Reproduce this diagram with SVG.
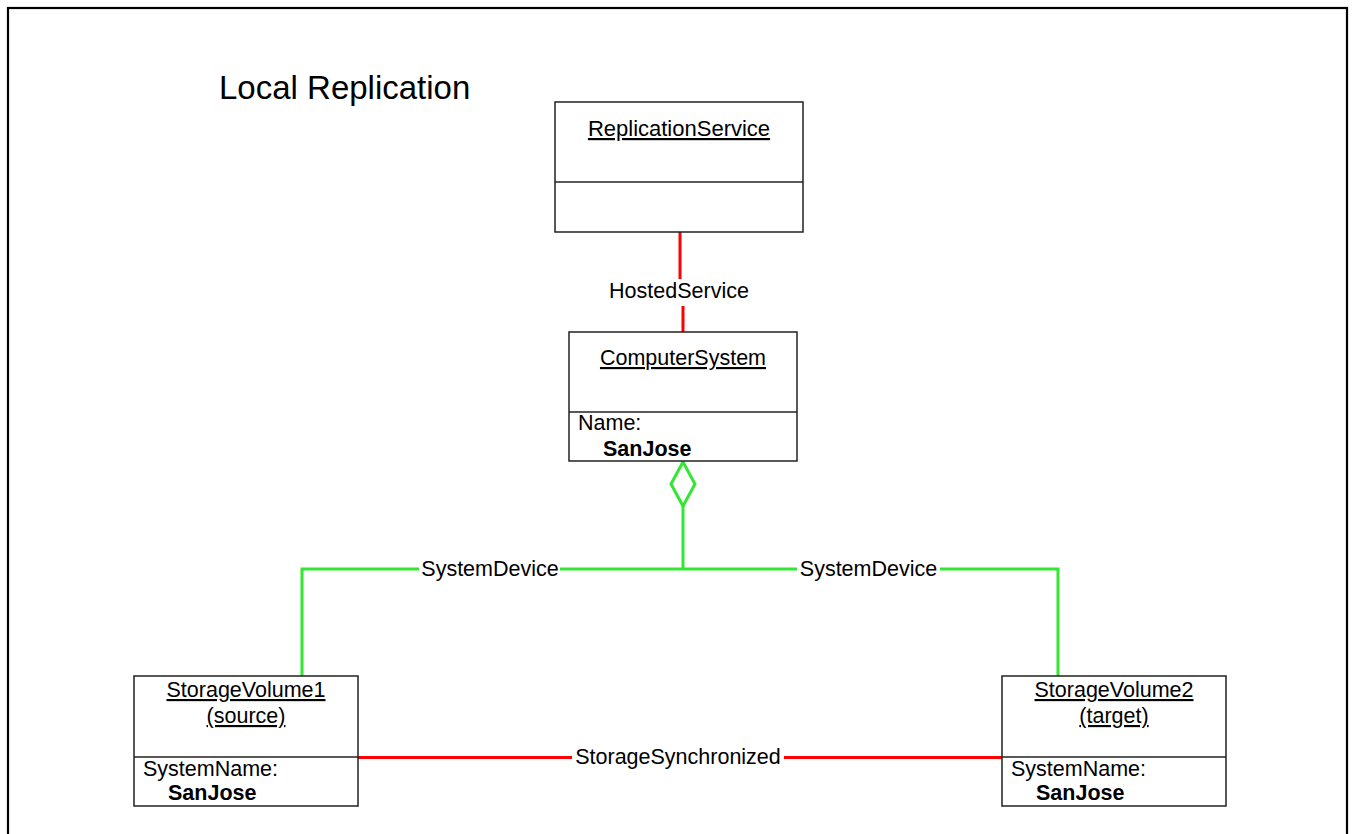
<svg xmlns="http://www.w3.org/2000/svg" width="1354" height="834" viewBox="0 0 1354 834">
<style>
text{font-family:"Liberation Sans",Arial,sans-serif;font-size:21.5px;fill:#000}
.title{font-size:33px}
.u{text-decoration:underline}
.b{font-weight:bold}
.box{fill:#fff;stroke:#222;stroke-width:1.5}
.div{stroke:#222;stroke-width:1.5}
.red{stroke:#ff0000;stroke-width:3;fill:none}
.grn{stroke:#33e633;stroke-width:3;fill:none}
</style>
<rect width="1354" height="834" fill="#fff"/>
<rect x="8" y="8" width="1339" height="840" fill="none" stroke="#000" stroke-width="2.2"/>
<text class="title" x="219" y="99">Local Replication</text>
<g id="connectors">
<line class="red" x1="680" y1="232" x2="680" y2="279"/>
<line class="red" x1="683" y1="306" x2="683" y2="332"/>
<text x="679" y="298" text-anchor="middle">HostedService</text>
<polygon class="grn" points="683,462 695,484 683,506 671,484"/>
<line class="grn" x1="683" y1="506" x2="683" y2="569"/>
<polyline class="grn" points="302,676 302,569 419,569"/>
<line class="grn" x1="560" y1="569" x2="797" y2="569"/>
<polyline class="grn" points="940,569 1058,569 1058,676"/>
<text x="490" y="576" text-anchor="middle">SystemDevice</text>
<text x="868.5" y="576" text-anchor="middle">SystemDevice</text>
<line class="red" x1="358" y1="757.5" x2="572" y2="757.5"/>
<line class="red" x1="784" y1="757.5" x2="1002" y2="757.5"/>
<text x="678" y="764" text-anchor="middle">StorageSynchronized</text>
</g>
<g id="replicationservice">
<rect class="box" x="555" y="102" width="248" height="130"/>
<line class="div" x1="555" y1="182" x2="803" y2="182"/>
<text class="u" x="679" y="136" text-anchor="middle" style="font-size:22px">ReplicationService</text>
</g>
<g id="computersystem">
<rect class="box" x="569" y="332" width="228" height="129"/>
<line class="div" x1="569" y1="412" x2="797" y2="412"/>
<text class="u" x="683" y="365" text-anchor="middle">ComputerSystem</text>
<text x="578" y="430">Name:</text>
<text class="b" x="603" y="456">SanJose</text>
</g>
<g id="storagevolume1">
<rect class="box" x="134" y="676" width="224" height="130"/>
<line class="div" x1="134" y1="757" x2="358" y2="757"/>
<text class="u" x="246" y="697" text-anchor="middle">StorageVolume1</text>
<text class="u" x="246" y="723" text-anchor="middle">(source)</text>
<text x="143" y="776">SystemName:</text>
<text class="b" x="168" y="800">SanJose</text>
</g>
<g id="storagevolume2">
<rect class="box" x="1002" y="676" width="224" height="130"/>
<line class="div" x1="1002" y1="757" x2="1226" y2="757"/>
<text class="u" x="1114" y="697" text-anchor="middle">StorageVolume2</text>
<text class="u" x="1114" y="723" text-anchor="middle">(target)</text>
<text x="1011" y="776">SystemName:</text>
<text class="b" x="1036" y="800">SanJose</text>
</g>
</svg>
